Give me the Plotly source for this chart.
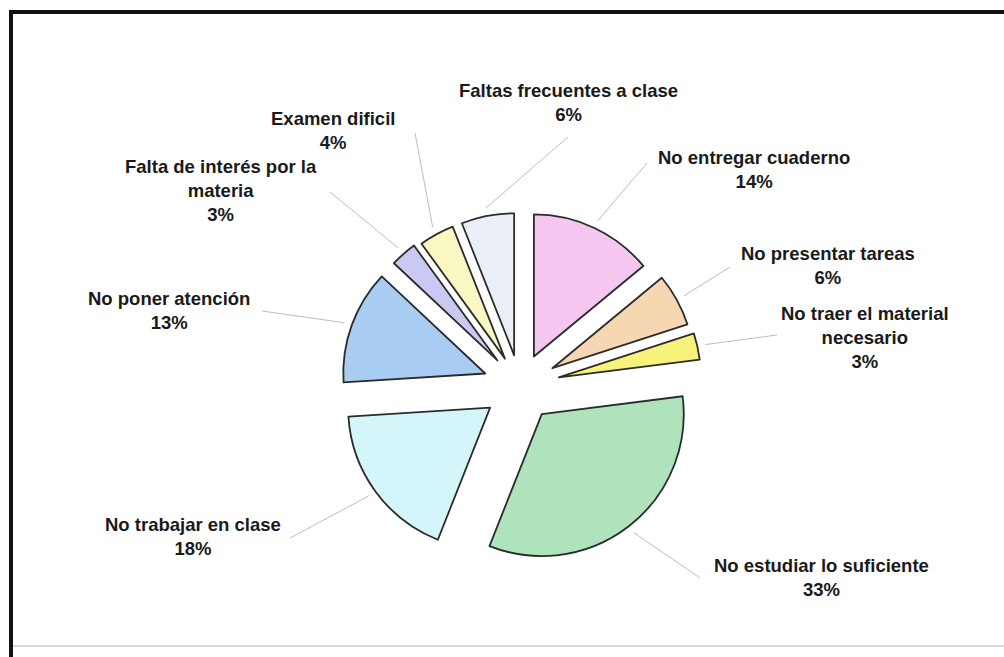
import math
import plotly.graph_objects as go

# ---- data ----
categories = [
    "No entregar cuaderno",
    "No presentar tareas",
    "No traer el material<br>necesario",
    "No estudiar lo suficiente",
    "No trabajar en clase",
    "No poner atención",
    "Falta de interés por la<br>materia",
    "Examen dificil",
    "Faltas frecuentes a clase",
]
values = [14, 6, 3, 33, 18, 13, 3, 4, 6]

# ---- styles / layout ----
colors = ["#F5C6F0", "#F7D6B2", "#F6F27A", "#AEE3BC", "#D4F5FA",
          "#A9CDF2", "#C9C9F2", "#F9F7C2", "#E9EEF7"]
pulls = [0.23, 0.26, 0.28, 0.25, 0.26, 0.26, 0.24, 0.22, 0.22]
label_centers = [(754, 169), (828, 265), (865, 337), (821, 577), (193, 536),
                 (169, 311), (221, 191), (333, 131), (568, 102)]
leader_ends = [(647, 163), (730, 267), (777, 335), (700, 578), (290, 538),
               (262, 311), (330, 192), (415, 133), (568, 137)]

W, H = 1004, 657
CX, CY, R = 520, 386, 142
half = R * (1 + max(pulls))

def px(x):
    return x / W

def py(y):
    return 1 - y / H

fig = go.Figure(go.Pie(
    labels=categories,
    values=values,
    sort=False,
    direction="clockwise",
    rotation=0,
    pull=pulls,
    marker=dict(colors=colors, line=dict(color="#2b2b2b", width=1.8)),
    textinfo="none",
    hoverinfo="label+percent",
    showlegend=False,
    domain=dict(x=[px(CX - half), px(CX + half)], y=[py(CY + half), py(CY - half)]),
))

shapes = []
annotations = []
total = sum(values)
cum = 0
for i, v in enumerate(values):
    mid = (cum + v / 2) / total * 2 * math.pi
    cum += v
    dx, dy = math.sin(mid), -math.cos(mid)
    ax = CX + pulls[i] * R * dx
    ay = CY + pulls[i] * R * dy
    sx = ax + (R + 8) * dx
    sy = ay + (R + 8) * dy
    ex, ey = leader_ends[i]
    shapes.append(dict(type="line", xref="paper", yref="paper",
                       x0=px(sx), y0=py(sy), x1=px(ex), y1=py(ey),
                       line=dict(color="#bdbdbd", width=1)))
    lx, ly = label_centers[i]
    annotations.append(dict(
        xref="paper", yref="paper", x=px(lx), y=py(ly),
        xanchor="center", yanchor="middle", align="center", showarrow=False,
        text=f"<b>{categories[i]}<br>{v}%</b>",
        font=dict(family="Liberation Sans, Arial, sans-serif", size=18.5, color="#1a1a1a"),
    ))

# frame
shapes += [
    dict(type="line", xref="paper", yref="paper", x0=px(9), y0=py(12), x1=px(1004), y1=py(12),
         line=dict(color="#111111", width=4)),
    dict(type="line", xref="paper", yref="paper", x0=px(11), y0=py(10), x1=px(11), y1=py(657),
         line=dict(color="#111111", width=4)),
    dict(type="line", xref="paper", yref="paper", x0=px(13), y0=py(646), x1=px(1004), y1=py(646),
         line=dict(color="#d8d8d8", width=2)),
]

fig.update_layout(
    width=W, height=H,
    margin=dict(l=0, r=0, t=0, b=0),
    paper_bgcolor="white", plot_bgcolor="white",
    shapes=shapes, annotations=annotations,
)

fig.write_html(
    "out.html",
    config=dict(displayModeBar=False),
    post_script="document.body.style.margin='0px';document.body.style.overflow='hidden';",
)
